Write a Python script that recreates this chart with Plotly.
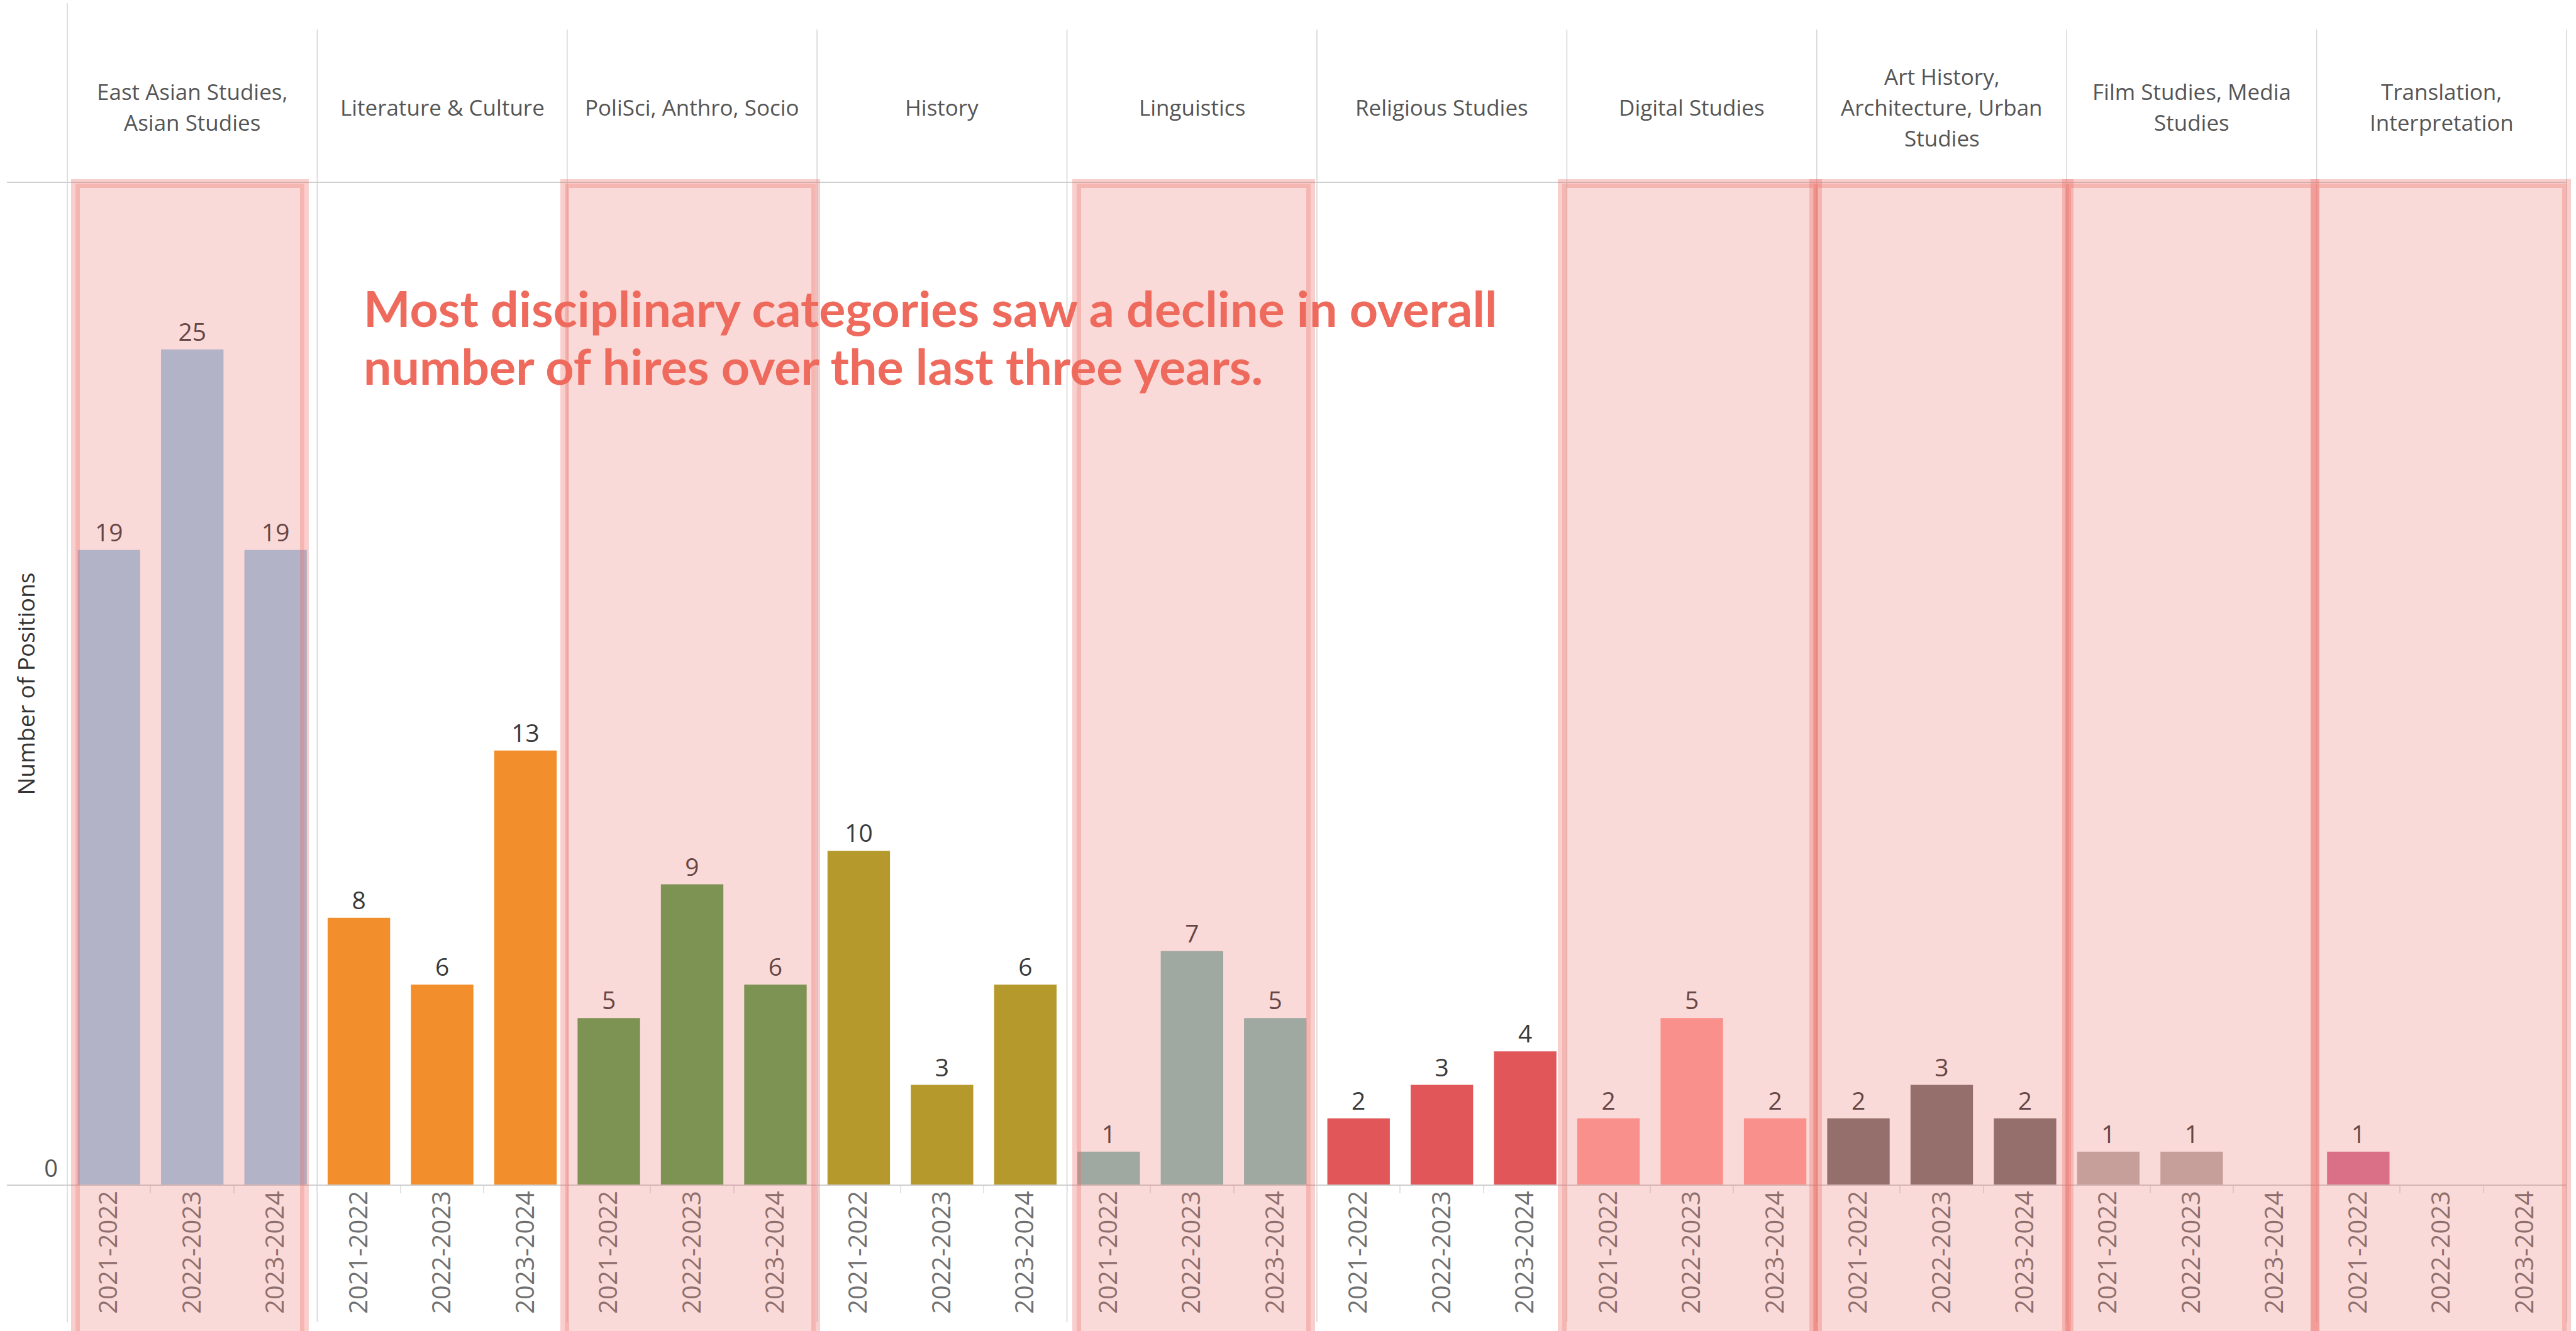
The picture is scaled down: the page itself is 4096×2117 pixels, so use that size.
import plotly.graph_objects as go
from plotly.subplots import make_subplots

# ---------------- data ----------------
categories = [
    "East Asian Studies, Asian Studies",
    "Literature & Culture",
    "PoliSci, Anthro, Socio",
    "History",
    "Linguistics",
    "Religious Studies",
    "Digital Studies",
    "Art History, Architecture, Urban Studies",
    "Film Studies, Media Studies",
    "Translation, Interpretation",
]
header_labels = [
    "East Asian Studies,<br>Asian Studies",
    "Literature & Culture",
    "PoliSci, Anthro, Socio",
    "History",
    "Linguistics",
    "Religious Studies",
    "Digital Studies",
    "Art History,<br>Architecture, Urban<br>Studies",
    "Film Studies, Media<br>Studies",
    "Translation,<br>Interpretation",
]
years = ["2021-2022", "2022-2023", "2023-2024"]
east_asian = [19, 25, 19]
literature = [8, 6, 13]
polisci = [5, 9, 6]
history = [10, 3, 6]
linguistics = [1, 7, 5]
religious = [2, 3, 4]
digital = [2, 5, 2]
art_history = [2, 3, 2]
film = [1, 1, None]
translation = [1, None, None]
series = [east_asian, literature, polisci, history, linguistics,
          religious, digital, art_history, film, translation]
bar_colors = ["#A0CBE8", "#F28E2B", "#59A14F", "#B6992D", "#86BCB6",
              "#E15759", "#FF9D9A", "#79706E", "#BAB0AC", "#D37295"]
highlighted = [0, 2, 4, 6, 7, 8, 9]
y_title = "Number of Positions"
note_lines = ["Most disciplinary categories saw a decline in overall",
              "number of hires over the last three years."]

# ---------------- geometry (output pixels) ----------------
W_PX, H_PX = 4096, 2117
L, R, T, B = 107, 4081, 290, 1885
PW, PH = R - L, B - T


def fx(px):
    return (px - L) / PW


def fy(py):
    return (B - py) / PH


n = len(categories)
fig = make_subplots(rows=1, cols=n, shared_yaxes=True, horizontal_spacing=0)

for i, (vals, col) in enumerate(zip(series, bar_colors)):
    fig.add_trace(
        go.Bar(
            x=years, y=vals,
            marker=dict(color=col, line=dict(width=0)),
            text=[("" if v is None else str(v)) for v in vals],
            textposition="outside",
            textfont=dict(family="Open Sans", size=39, color="#3a3a3a"),
            cliponaxis=False,
            showlegend=False,
            hoverinfo="skip",
        ),
        row=1, col=i + 1,
    )
    fig.update_xaxes(
        type="category", categoryorder="array", categoryarray=years,
        range=[-0.5, 2.5], tickangle=-90,
        tickfont=dict(family="Open Sans", size=40, color="#707070"),
        ticks="outside", tickson="boundaries", ticklen=12,
        tickcolor="#e2e2e2", tickwidth=1.5,
        showline=False, showgrid=False, zeroline=False,
        row=1, col=i + 1,
    )

fig.update_yaxes(range=[0, 30], tickvals=[0], ticktext=["0"],
                 showgrid=False, zeroline=False, showline=False,
                 ticks="", ticklabelposition="outside top",
                 ticklabelstandoff=14,
                 tickfont=dict(family="Open Sans", size=38, color="#555555"))

shapes = []
line_col = "#d6d6d6"
# panel separators
for k in range(n + 1):
    px = L + PW * k / n
    top = 5 if k == 0 else 47
    shapes.append(dict(type="line", xref="paper", yref="paper",
                       x0=fx(px), x1=fx(px), y0=fy(top), y1=fy(2103),
                       line=dict(color=line_col, width=1.6), layer="below"))
# header bottom line and baseline
for py in (T, B):
    shapes.append(dict(type="line", xref="paper", yref="paper",
                       x0=fx(11), x1=fx(R), y0=fy(py), y1=fy(py),
                       line=dict(color="#cfcfcf", width=2), layer="above"))

# highlight bands (outer pixel extents)
band_px = {0: (113, 491), 2: (891, 1304), 4: (1705, 2091), 6: (2477, 2897),
           7: (2877, 3297), 8: (3279, 3688), 9: (3674, 4088)}
lw = 14
for idx in highlighted:
    x0, x1 = band_px[idx]
    shapes.append(dict(type="rect", xref="paper", yref="paper",
                       x0=fx(x0 + lw / 2), x1=fx(x1 - lw / 2),
                       y0=fy(285 + lw / 2), y1=fy(2140),
                       fillcolor="rgba(235,107,99,0.25)",
                       line=dict(color="rgba(235,107,99,0.32)", width=lw),
                       layer="above"))

annotations = []
head_center, head_step = 170, 49
for k, lab in enumerate(header_labels):
    cx = L + PW * (k + 0.5) / n
    parts = lab.split("<br>")
    m = len(parts)
    for j, part in enumerate(parts):
        cy = head_center + (j - (m - 1) / 2) * head_step
        annotations.append(dict(text=part, xref="paper", yref="paper",
                                x=fx(cx), y=fy(cy), showarrow=False,
                                xanchor="center", yanchor="middle", align="center",
                                font=dict(family="Open Sans", size=35, color="#555555")))
annotations.append(dict(text=y_title, xref="paper", yref="paper",
                        x=fx(40), y=fy((T + B) / 2), textangle=-90,
                        showarrow=False, xanchor="center", yanchor="middle",
                        font=dict(family="Open Sans", size=37, color="#333333")))
for j, (line, cy) in enumerate(zip(note_lines, (489, 581))):
    annotations.append(dict(text=line, xref="paper", yref="paper",
                            x=fx(576), y=fy(cy), showarrow=False,
                            xanchor="left", yanchor="middle", align="left",
                            font=dict(family="Lato", size=79, weight=700,
                                      color="#EE6A5D")))

fig.update_layout(
    width=W_PX, height=H_PX,
    margin=dict(l=L, r=W_PX - R, t=T, b=H_PX - B, autoexpand=False),
    paper_bgcolor="white", plot_bgcolor="rgba(0,0,0,0)",
    bargap=0.25,
    shapes=shapes, annotations=annotations,
    font=dict(family="Open Sans"),
)

fig.write_html("out.html",
               config={"displayModeBar": False},
               post_script="document.body.style.margin='0';document.body.style.overflow='hidden';")
